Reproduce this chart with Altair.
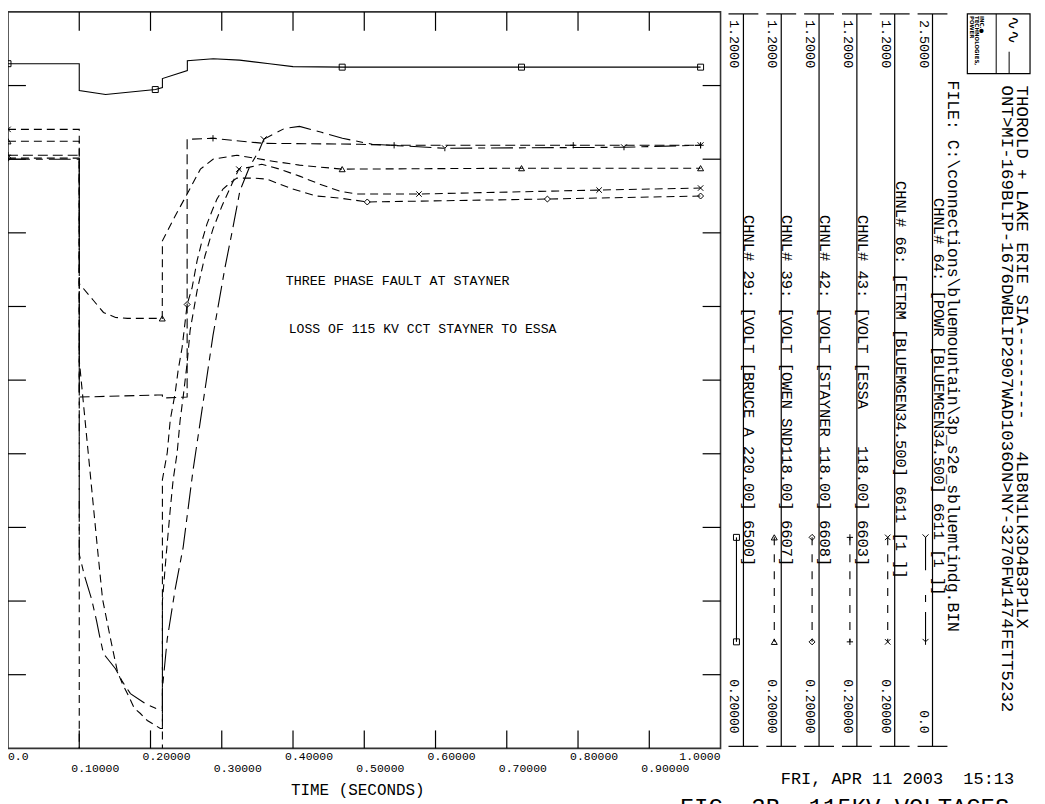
import altair as alt
import pandas as pd

MONO = "Liberation Mono"
INK = "black"
NB = "\u00a0"

# ---------------- channel data (time in seconds) ----------------
# CHNL 29  VOLT BRUCE A 220 kV (solid, square)
bruce_t = [0.0, 0.1, 0.1, 0.137, 0.207, 0.2167, 0.2167, 0.2517, 0.2517, 0.288, 0.325, 0.367, 0.40, 0.47, 0.72, 0.972]
bruce_v = [1.1297, 1.1297, 1.0932, 1.0878, 1.0946, 1.0973, 1.1095, 1.1203, 1.1338, 1.1365, 1.1345, 1.1297, 1.1257, 1.1250, 1.1250, 1.1250]

# CHNL 39  VOLT OWEN SND 118 kV (dashed, triangle)
owen_t = [0.0, 0.1, 0.1, 0.12, 0.134, 0.151, 0.1676, 0.2165, 0.2167, 0.2346, 0.2514, 0.27, 0.2877, 0.3212, 0.3715, 0.409, 0.469, 0.7207, 0.972]
owen_v = [1.0243, 1.0243, 0.8311, 0.8081, 0.7919, 0.7851, 0.7838, 0.7838, 0.8892, 0.9230, 0.9527, 0.9865, 1.0, 1.0054, 0.9973, 0.9919, 0.9865, 0.9878, 0.9878]

# CHNL 42  VOLT STAYNER 118 kV (dashed, diamond)
stayner_t = [0.0, 0.1, 0.1, 0.2167, 0.2167, 0.2235, 0.2277, 0.2346, 0.2388, 0.2444, 0.2514, 0.2584, 0.2654, 0.2723,
             0.2793, 0.2863, 0.2933, 0.3017, 0.3115, 0.3212, 0.3464, 0.3631, 0.3994, 0.433, 0.465, 0.5042, 0.757, 0.972]
stayner_v = [1.0014, 1.0014, 0.0, 0.0, 0.5649, 0.6014, 0.6459, 0.6824, 0.7135, 0.7446, 0.8027, 0.8257, 0.8622, 0.8892,
             0.9122, 0.9297, 0.9459, 0.9595, 0.9676, 0.9743, 0.9743, 0.9730, 0.9595, 0.9500, 0.9473, 0.9419, 0.9459, 0.9500]

# CHNL 43  VOLT ESSA 118 kV (dashed, plus)
essa_t = [0.0, 0.1, 0.1, 0.2098, 0.2167, 0.2167, 0.2514, 0.2514, 0.2877, 0.3575, 0.493, 0.5419, 0.7933, 0.972]
essa_v = [1.0054, 1.0054, 0.6770, 0.6797, 0.6797, 0.6757, 0.6770, 1.0270, 1.0284, 1.0216, 1.0203, 1.0189, 1.0189, 1.0189]

# CHNL 66  ETRM BLUEMGEN 34.5 kV (dashed, x)
etrm_t = [0.0, 0.1, 0.1, 0.1257, 0.1327, 0.1439, 0.1536, 0.1606, 0.1690, 0.1774, 0.1858, 0.1955, 0.2025, 0.2137,
          0.2167, 0.2167, 0.2221, 0.2277, 0.2318, 0.2374, 0.2416, 0.2458, 0.2514, 0.2556, 0.2654, 0.2765, 0.2877,
          0.3003, 0.3142, 0.3240, 0.3394, 0.3561, 0.3813, 0.4092, 0.4372, 0.4651, 0.4888, 0.5768, 0.8296, 0.972]
etrm_v = [1.0405, 1.0405, 0.7270, 0.4700, 0.4027, 0.3486, 0.3041, 0.2878, 0.2716, 0.2541, 0.2473, 0.2378, 0.2338, 0.2270,
          0.2270, 0.4000, 0.4635, 0.5243, 0.5649, 0.6014, 0.6459, 0.6770, 0.7230, 0.7676, 0.8216, 0.8689, 0.9054,
          0.9365, 0.9662, 0.9865, 0.9892, 0.9932, 0.9865, 0.9770, 0.9662, 0.9568, 0.9527, 0.9527, 0.9581, 0.9608]

# CHNL 64  POWR BLUEMGEN 34.5 kV (long dash, Y)  scale 0.0 .. 2.5
powr_t = [0.0, 0.1, 0.1, 0.1075, 0.1173, 0.1243, 0.1285, 0.1341, 0.1397, 0.1508, 0.1606, 0.1718, 0.1927, 0.2137,
          0.2167, 0.2167, 0.2235, 0.2346, 0.2458, 0.2598, 0.2737, 0.2877, 0.3045, 0.3156, 0.3254, 0.3394, 0.352,
          0.3589, 0.3883, 0.4092, 0.44, 0.4693, 0.5112, 0.6131, 0.8645, 0.972]
powr_p = [2.0, 2.0, 0.6588, 0.5845, 0.5068, 0.4324, 0.3818, 0.3209, 0.3041, 0.2703, 0.2264, 0.1858, 0.1520, 0.1284,
          0.1284, 0.2027, 0.3716, 0.5405, 0.6824, 0.9459, 1.1723, 1.4020, 1.6318, 1.7669, 1.8919, 1.9764, 2.0270,
          2.0676, 2.1047, 2.1115, 2.0912, 2.0709, 2.0507, 2.0372, 2.0405, 2.0473]

# marker positions
m29_t = [0.0, 0.2067, 0.469, 0.7207, 0.972]; m29_v = [1.1297, 1.0946, 1.125, 1.125, 1.125]
m39_t = [0.0, 0.2165, 0.469, 0.7207, 0.972]; m39_v = [1.0243, 0.7838, 0.9865, 0.9878, 0.9878]
m42_t = [0.0, 0.2514, 0.5042, 0.757, 0.972]; m42_v = [1.0014, 0.8027, 0.9419, 0.9459, 0.9500]
m43_t = [0.0, 0.2877, 0.5419, 0.7933, 0.972]; m43_v = [1.0054, 1.0284, 1.0189, 1.0189, 1.0189]
m66_t = [0.0, 0.324, 0.5768, 0.8296, 0.972]; m66_v = [1.0405, 0.9865, 0.9527, 0.9581, 0.9608]
m64_t = [0.3589, 0.6131, 0.8645, 0.972]; m64_p = [2.0676, 2.0372, 2.0405, 2.0473]

# axis ticks / labels
x_ticks = [0.1, 0.2, 0.3, 0.4, 0.5, 0.6, 0.7, 0.8, 0.9]
y_ticks = [0.3, 0.4, 0.5, 0.6, 0.7, 0.8, 0.9, 1.0, 1.1]
upper_vals = [0.2, 0.4, 0.6, 0.8]
upper_text = ["0.20000", "0.40000", "0.60000", "0.80000"]
lower_vals = [0.1, 0.3, 0.5, 0.7, 0.9]
lower_text = ["0.10000", "0.30000", "0.50000", "0.70000", "0.90000"]

chan_text = ["CHNL# 29: [VOLT [BRUCE A 220.00] 6500]",
             "CHNL# 39: [VOLT [OWEN SND118.00] 6607]",
             "CHNL# 42: [VOLT [STAYNER 118.00] 6608]",
             "CHNL# 43: [VOLT [ESSA    118.00] 6603]",
             "CHNL# 66: [ETRM [BLUEMGEN34.500] 6611 [1 ]]",
             "CHNL# 64: [POWR [BLUEMGEN34.500] 6611 [1 ]]"]
chan_max = ["1.2000", "1.2000", "1.2000", "1.2000", "1.2000", "2.5000"]
chan_min = ["0.20000", "0.20000", "0.20000", "0.20000", "0.20000", "0.0"]

title_1 = "THOROLD + LAKE ERIE SIA---------   4LB8N1LK3D4B3P1LX"
title_2 = "ONT>MI-169BLIP-1676DWBLIP2907WAD1036ON>NY-3270FW1474FETT5232"
file_line = "FILE: C:\\connections\\bluemountain\\3p_s2e_sbluemtindg.BIN"
date_line = "FRI, APR 11 2003  15:13"
fig_line = "FIG. 3B  115KV VOLTAGES"

# ---------------- helpers ----------------
OX, OY = 8, 10
def px(p): return p - OX
def py(p): return p - OY

def keep_spaces(s):
    return s.replace(" ", NB)

XS = alt.Scale(domain=[0, 1], nice=False, zero=False)
VS = alt.Scale(domain=[0.2, 1.2], nice=False, zero=False)
PS = alt.Scale(domain=[0, 2.5], nice=False, zero=False)

def xenc():
    return alt.X("t:Q", scale=XS, axis=None)

def yenc(scale):
    return alt.Y("v:Q", scale=scale, axis=None)

def curve(t, vals, scale, dash=None, width=1.1):
    df = pd.DataFrame({"t": t, "v": vals, "i": list(range(len(t)))})
    kw = dict(color=INK, strokeWidth=width, clip=True)
    if dash:
        kw["strokeDash"] = dash
    return alt.Chart(df).mark_line(**kw).encode(x=xenc(), y=yenc(scale), order="i:Q")

def markers(t, vals, scale, shape, size=40):
    df = pd.DataFrame({"t": t, "v": vals})
    return alt.Chart(df).mark_point(shape=shape, size=size, filled=False, color=INK,
                                    opacity=1, strokeWidth=1).encode(x=xenc(), y=yenc(scale))

ONE = pd.DataFrame({"k": [0]})

def label(txt, x, y, size, angle=0, align="left", baseline="middle", font=MONO, weight="normal"):
    return alt.Chart(pd.DataFrame({"s": [keep_spaces(txt)]})).mark_text(
        align=align, baseline=baseline, angle=angle, fontSize=size, font=font,
        fontWeight=weight, color=INK).encode(x=alt.value(x), y=alt.value(y), text="s:N")

def seg(x1, y1, x2, y2, width=1.2, dash=None):
    kw = dict(color=INK, strokeWidth=width)
    if dash:
        kw["strokeDash"] = dash
    ch = alt.Chart(ONE).mark_rule(**kw)
    if x1 == x2:
        return ch.encode(x=alt.value(x1), y=alt.value(y1), y2=alt.value(y2))
    return ch.encode(x=alt.value(x1), x2=alt.value(x2), y=alt.value(y1))

def sym(x, y, shape, size=40):
    return alt.Chart(ONE).mark_point(shape=shape, size=size, filled=False, color=INK,
                                     opacity=1, strokeWidth=1).encode(x=alt.value(x), y=alt.value(y))

PLUS = "M-1,0L1,0M0,-1L0,1"
XSH = "M-1,-1L1,1M-1,1L1,-1"
YSH = "M-1,-1L0,0L1,-1M0,0L0,1"

DASH = [8, 5]
LONG = [22, 6, 7, 6]

layers = []

# ---------------- curves ----------------
layers += [
    curve(bruce_t, bruce_v, VS),
    curve(owen_t, owen_v, VS, DASH),
    curve(stayner_t, stayner_v, VS, DASH),
    curve(essa_t, essa_v, VS, [10, 5]),
    curve(etrm_t, etrm_v, VS, DASH),
    curve(powr_t, powr_p, PS, LONG),
    markers(m29_t, m29_v, VS, "square", 36),
    markers(m39_t, m39_v, VS, "triangle-up", 36),
    markers(m42_t, m42_v, VS, "diamond", 36),
    markers(m43_t, m43_v, VS, PLUS, 40),
    markers(m66_t, m66_v, VS, XSH, 30),
    markers(m64_t, m64_p, PS, YSH, 36),
]

# ---------------- ticks ----------------
tx = pd.DataFrame({"t": x_ticks})
ty = pd.DataFrame({"v": y_ticks})
layers += [
    alt.Chart(tx).mark_rule(color=INK, strokeWidth=1.2).encode(x=xenc(), y=alt.value(0), y2=alt.value(19)),
    alt.Chart(tx).mark_rule(color=INK, strokeWidth=1.2).encode(x=xenc(), y=alt.value(722), y2=alt.value(740)),
    alt.Chart(ty).mark_rule(color=INK, strokeWidth=1.2).encode(y=yenc(VS), x=alt.value(0), x2=alt.value(18)),
    alt.Chart(ty).mark_rule(color=INK, strokeWidth=1.2).encode(y=yenc(VS), x=alt.value(698), x2=alt.value(716)),
]

# ---------------- x labels ----------------
layers += [
    alt.Chart(pd.DataFrame({"t": upper_vals, "s": upper_text})).mark_text(
        align="left", dx=-8, baseline="middle", font=MONO, fontSize=11.5, color=INK
    ).encode(x=xenc(), y=alt.value(748.5), text="s:N"),
    alt.Chart(pd.DataFrame({"t": lower_vals, "s": lower_text})).mark_text(
        align="left", dx=-8, baseline="middle", font=MONO, fontSize=11.5, color=INK
    ).encode(x=xenc(), y=alt.value(761), text="s:N"),
    alt.Chart(pd.DataFrame({"t": [0.0], "s": ["0.0"]})).mark_text(
        align="left", dx=0, baseline="middle", font=MONO, fontSize=11.5, color=INK
    ).encode(x=xenc(), y=alt.value(748.5), text="s:N"),
    alt.Chart(pd.DataFrame({"t": [1.0], "s": ["1.0000"]})).mark_text(
        align="right", dx=0, baseline="middle", font=MONO, fontSize=11.5, color=INK
    ).encode(x=xenc(), y=alt.value(748.5), text="s:N"),
    label("TIME (SECONDS)", px(359.5), py(792), 16, align="center"),
    label(date_line, px(1019), py(781), 17, align="right"),
    label(fig_line, px(683), py(817), 24, baseline="alphabetic"),
]

# ---------------- annotations in plot ----------------
layers += [
    label("THREE PHASE FAULT AT STAYNER", px(287), py(280), 13.4),
    label("LOSS OF 115 KV CCT STAYNER TO ESSA", px(290), py(329), 13.2),
]

# ---------------- legend panel ----------------
seps = [747, 785, 823, 861, 899, 937]
text_start = [214, 214, 214, 214, 180, 197]
shapes = ["square", "triangle-up", "diamond", PLUS, XSH, YSH]
sizes = [36, 36, 36, 40, 30, 36]
ldash = [None, [8, 9], [8, 9], [8, 9], [8, 9], [33, 25, 7, 10]]
for i, s in enumerate(seps):
    layers += [
        seg(px(s), py(12), px(s), py(748)),
        seg(px(s - 15), py(12), px(s + 15), py(12)),
        seg(px(s - 15), py(748), px(s + 15), py(748)),
        label(chan_max[i], px(s - 9), py(18), 13.5, angle=90),
        label(chan_min[i], px(s - 9), py(735), 13.0, angle=90, align="right"),
        label(chan_text[i], px(s + 6), py(text_start[i]), 15.5, angle=90),
        seg(px(s - 7), py(538), px(s - 7), py(643), width=1.1, dash=ldash[i]),
        sym(px(s - 7), py(538), shapes[i], sizes[i]),
        sym(px(s - 7), py(643), shapes[i], sizes[i]),
    ]

layers += [
    label(file_line, px(958), py(79), 16.5, angle=90),
    label(title_2, px(1012), py(84), 17.5, angle=90),
    label(title_1, px(1027), py(84), 17.5, angle=90),
]

# logo
layers += [
    alt.Chart(ONE).mark_rect(fillOpacity=0, stroke=INK, strokeWidth=1.2).encode(
        x=alt.value(px(972)), x2=alt.value(px(1035)), y=alt.value(py(12)), y2=alt.value(py(72))),
    seg(px(1001), py(12), px(1001), py(72), width=1.0),
    label("POWER", px(977), py(14), 5.5, angle=90, font="DejaVu Sans", weight="bold"),
    label("TECHNOLOGIES,", px(982), py(14), 5.5, angle=90, font="DejaVu Sans", weight="bold"),
    label("INC.\u25cf", px(987), py(14), 5.5, angle=90, font="DejaVu Sans", weight="bold"),
    label("\u223f\u223f", px(1018), py(14), 17, angle=90, font="DejaVu Sans"),
    seg(px(1014), py(50), px(1014), py(72), width=1.0),
]

chart = alt.layer(*layers).resolve_scale(y="independent").properties(
    width=716, height=740,
    padding={"left": 0, "top": 2, "right": 318, "bottom": 54},
    autosize=alt.AutoSizeParams(type="none"),
    background="white",
).configure_view(stroke="#333", strokeWidth=1.6)

chart.save("out.html", embed_options={"renderer": "svg", "actions": False})
